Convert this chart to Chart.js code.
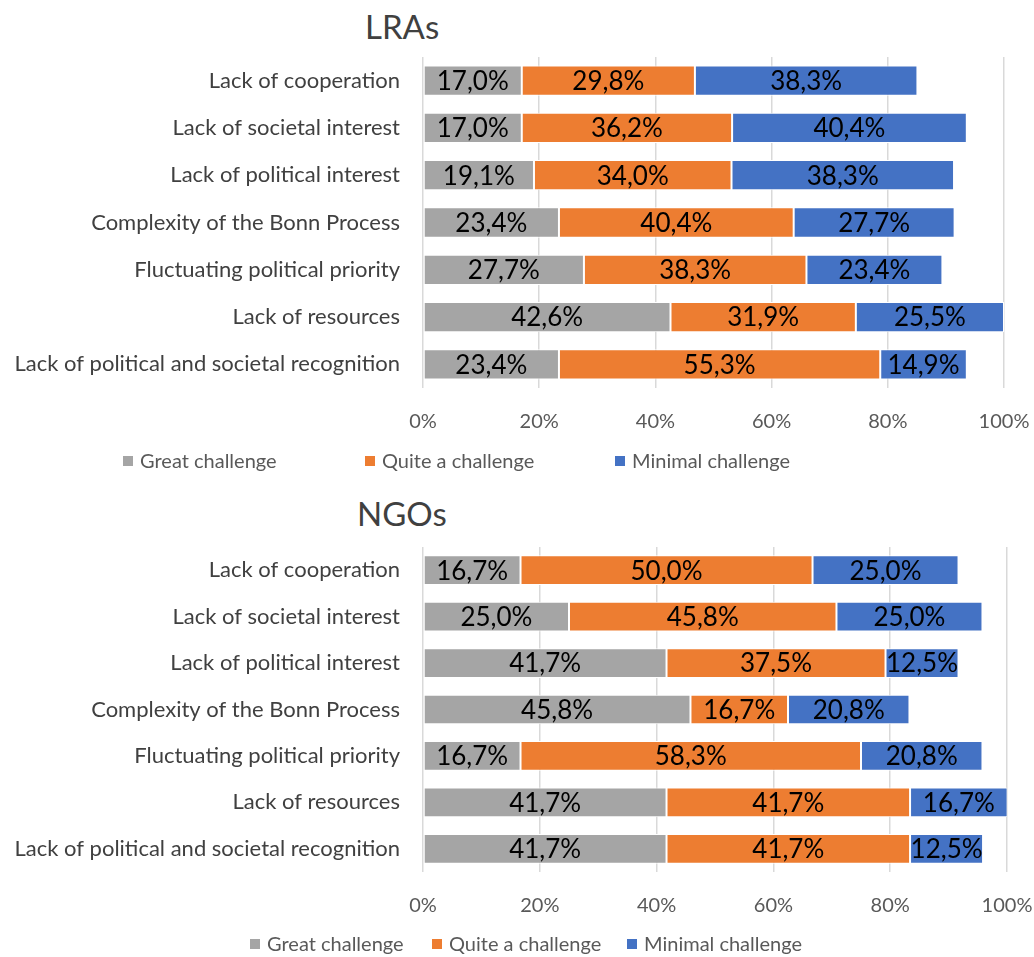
<!DOCTYPE html>
<html>
<head>
<meta charset="utf-8">
<script src="https://cdn.jsdelivr.net/npm/chart.js@4"></script>
<style>
  body { margin: 0; background: #fff; }
  .box { position: absolute; left: 0; width: 1034px; }
  .ttl { position: absolute; font: 33px Lato, sans-serif; color: #404040; line-height: 40px; }
</style>
</head>
<body>
<div class="ttl" style="left:365px; top:6px;">LRAs</div>
<div class="box" style="top:0; height:485px;"><canvas id="cLra"></canvas></div>
<div class="ttl" style="left:357px; top:493px;">NGOs</div>
<div class="box" style="top:485px; height:472px;"><canvas id="cNgo"></canvas></div>
<script>
// categorías (de arriba hacia abajo)
const CATEGORIES = [
    'Lack of cooperation',
    'Lack of societal interest',
    'Lack of political interest',
    'Complexity of the Bonn Process',
    'Fluctuating political priority',
    'Lack of resources',
    'Lack of political and societal recognition'
];
const SERIES = ['Great challenge', 'Quite a challenge', 'Minimal challenge'];
const COLORS = ['#A5A5A5', '#ED7D31', '#4472C4'];
const X_TICKS = [0, 20, 40, 60, 80, 100];

// LRAs
const LRA_GREAT   = [17.0, 17.0, 19.1, 23.4, 27.7, 42.6, 23.4];
const LRA_QUITE   = [29.8, 36.2, 34.0, 40.4, 38.3, 31.9, 55.3];
const LRA_MINIMAL = [38.3, 40.4, 38.3, 27.7, 23.4, 25.5, 14.9];

// NGOs
const NGO_GREAT   = [16.7, 25.0, 41.7, 45.8, 16.7, 41.7, 41.7];
const NGO_QUITE   = [50.0, 45.8, 37.5, 16.7, 58.3, 41.7, 41.7];
const NGO_MINIMAL = [25.0, 25.0, 12.5, 20.8, 20.8, 16.7, 12.5];

const fmt = v => v.toFixed(1).replace('.', ',') + '%';

// etiquetas dentro de cada segmento
const segLabels = {
    id: 'segLabels',
    afterDatasetsDraw(chart) {
        const ctx = chart.ctx;
        ctx.save();
        ctx.font = '26px Lato';
        ctx.fillStyle = '#000';
        ctx.textAlign = 'center';
        ctx.textBaseline = 'middle';
        chart.data.datasets.forEach((ds, i) => {
            chart.getDatasetMeta(i).data.forEach((bar, j) => {
                ctx.fillText(fmt(ds.data[j]), (bar.x + bar.base) / 2, bar.y + 1);
            });
        });
        ctx.restore();
    }
};

// leyenda con posiciones fijas (como en Excel)
const slotLegend = {
    id: 'slotLegend',
    afterDraw(chart, args, opts) {
        const ctx = chart.ctx;
        ctx.save();
        ctx.font = '20px Lato';
        ctx.textBaseline = 'middle';
        chart.data.datasets.forEach((ds, i) => {
            const x = opts.x[i];
            ctx.fillStyle = ds.backgroundColor;
            ctx.fillRect(x, opts.y - 5, 10, 10);
            ctx.fillStyle = '#595959';
            ctx.fillText(ds.label, x + 17, opts.y + 1);
        });
        ctx.restore();
    }
};

function buildChart(id, great, quite, minimal, pad, legendX, legendY) {
    const series = [great, quite, minimal];
    return new Chart(document.getElementById(id), {
        type: 'bar',
        data: {
            labels: CATEGORIES,
            datasets: series.map((d, i) => ({
                label: SERIES[i],
                data: d,
                backgroundColor: COLORS[i],
                borderColor: '#fff',
                borderWidth: 1,
                borderSkipped: false,
                barPercentage: 0.64,
                categoryPercentage: 1
            }))
        },
        options: {
            indexAxis: 'y',
            responsive: true,
            maintainAspectRatio: false,
            animation: false,
            layout: { padding: pad },
            plugins: {
                legend: { display: false },
                tooltip: { enabled: false },
                slotLegend: { x: legendX, y: legendY }
            },
            scales: {
                x: {
                    stacked: true,
                    min: 0,
                    max: 100,
                    afterBuildTicks: s => { s.ticks = X_TICKS.map(v => ({ value: v })); },
                    afterFit: s => { s.height = 45; s.paddingLeft = 0; s.paddingRight = 0; },
                    ticks: {
                        callback: v => v + '%',
                        color: '#595959',
                        font: { family: 'Lato', size: 20 },
                        padding: 22,
                        maxRotation: 0
                    },
                    grid: { color: '#D9D9D9', lineWidth: 1.5, drawTicks: false },
                    border: { display: false }
                },
                y: {
                    stacked: true,
                    afterFit: s => { s.width = 423; s.paddingTop = 0; s.paddingBottom = 0; },
                    ticks: {
                        color: '#404040',
                        font: { family: 'Lato', size: 22 },
                        padding: 23
                    },
                    grid: { display: false, drawTicks: false },
                    border: { display: false }
                }
            }
        },
        plugins: [segLabels, slotLegend]
    });
}

buildChart('cLra', LRA_GREAT, LRA_QUITE, LRA_MINIMAL,
    { left: 0, right: 30, top: 57, bottom: 52 }, [123, 365, 615], 461);
buildChart('cNgo', NGO_GREAT, NGO_QUITE, NGO_MINIMAL,
    { left: 0, right: 27, top: 62, bottom: 40 }, [250, 432, 627], 459);
</script>
</body>
</html>
